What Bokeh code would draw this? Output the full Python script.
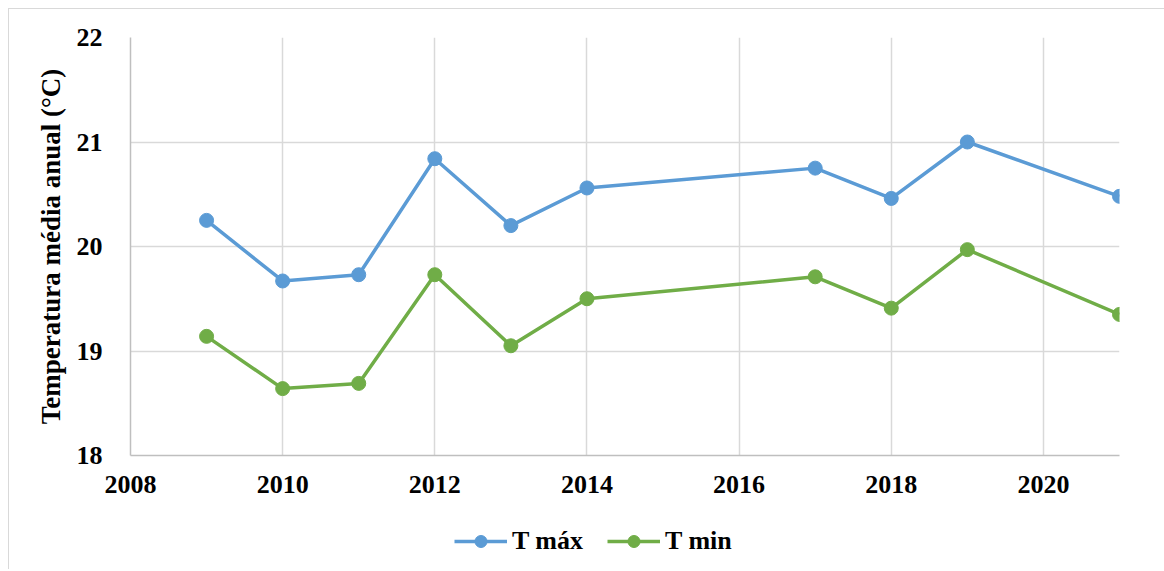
from bokeh.plotting import figure
from bokeh.layouts import column
from bokeh.models import FixedTicker, Legend, LegendItem, Range1d
from bokeh.embed import file_html
from bokeh.resources import INLINE

years = [2009, 2010, 2011, 2012, 2013, 2014, 2017, 2018, 2019, 2021]
t_max = [20.25, 19.67, 19.73, 20.84, 20.20, 20.56, 20.75, 20.46, 21.00, 20.48]
t_min = [19.14, 18.64, 18.69, 19.73, 19.05, 19.50, 19.71, 19.41, 19.97, 19.35]
x_ticks = [2008, 2010, 2012, 2014, 2016, 2018, 2020]
y_ticks = [18, 19, 20, 21, 22]
series_names = ["T máx", "T min"]
y_label = "Temperatura média anual (°C)"

BLUE = "#5B9BD5"
GREEN = "#70AD47"
FONT = "Liberation Serif"
W = 1155

p = figure(width=W, height=500, output_backend="svg", toolbar_location=None,
           x_range=Range1d(2008, 2021), y_range=Range1d(18, 22),
           min_border_left=121, min_border_right=45, min_border_top=28,
           min_border_bottom=54)
p.outline_line_color = None

for ax in (p.xaxis[0], p.yaxis[0]):
    ax.axis_line_color = "#bfbfbf"
    ax.axis_line_width = 1.5
    ax.major_tick_line_color = None
    ax.minor_tick_line_color = None
    ax.major_label_text_font = FONT
    ax.major_label_text_font_style = "bold"
    ax.major_label_text_font_size = "26px"
    ax.major_label_text_color = "black"

p.xaxis[0].ticker = FixedTicker(ticks=x_ticks)
p.yaxis[0].ticker = FixedTicker(ticks=y_ticks)
p.xaxis[0].major_label_standoff = 14
p.yaxis[0].major_label_standoff = 22
p.yaxis[0].axis_label = y_label
p.yaxis[0].axis_label_text_font = FONT
p.yaxis[0].axis_label_text_font_style = "bold"
p.yaxis[0].axis_label_text_font_size = "27px"
p.yaxis[0].axis_label_text_color = "black"
p.yaxis[0].axis_label_standoff = 8

p.xgrid[0].ticker = FixedTicker(ticks=x_ticks[1:])
p.ygrid[0].ticker = FixedTicker(ticks=y_ticks[1:])
for g in (p.xgrid[0], p.ygrid[0]):
    g.grid_line_color = "#d9d9d9"
    g.grid_line_width = 1.5

series = ((t_max, BLUE, series_names[0]), (t_min, GREEN, series_names[1]))
for vals, color, name in series:
    p.line(years, vals, line_color=color, line_width=3.5)
    p.scatter(years, vals, size=14, fill_color=color, line_color=color)

# legend strip below the chart
pl = figure(width=W, height=60, output_backend="svg", toolbar_location=None,
            x_range=Range1d(0, 1), y_range=Range1d(0, 1),
            x_axis_type=None, y_axis_type=None,
            min_border_left=0, min_border_right=0, min_border_top=0, min_border_bottom=0)
pl.outline_line_color = None
pl.xgrid.visible = False
pl.ygrid.visible = False
items = []
for vals, color, name in series:
    ln = pl.line(years, vals, line_color=color, line_width=3.5)
    sc = pl.scatter(years, vals, size=14, fill_color=color, line_color=color)
    items.append(LegendItem(label=name, renderers=[ln, sc]))

legend = Legend(items=items, orientation="horizontal", location=(324, 13),
                border_line_color=None, background_fill_alpha=0,
                label_text_font=FONT, label_text_font_style="bold",
                label_text_font_size="26px", label_text_color="black",
                glyph_width=53, glyph_height=30, label_standoff=5, spacing=24,
                padding=0, margin=0)
pl.add_layout(legend, "center")

layout = column(p, pl, spacing=0,
                styles={"margin-left": "8px", "margin-top": "8px",
                        "border-top": "1px solid #d9d9d9",
                        "border-left": "1px solid #d9d9d9"})

open("out.html", "w").write(file_html(layout, INLINE))
